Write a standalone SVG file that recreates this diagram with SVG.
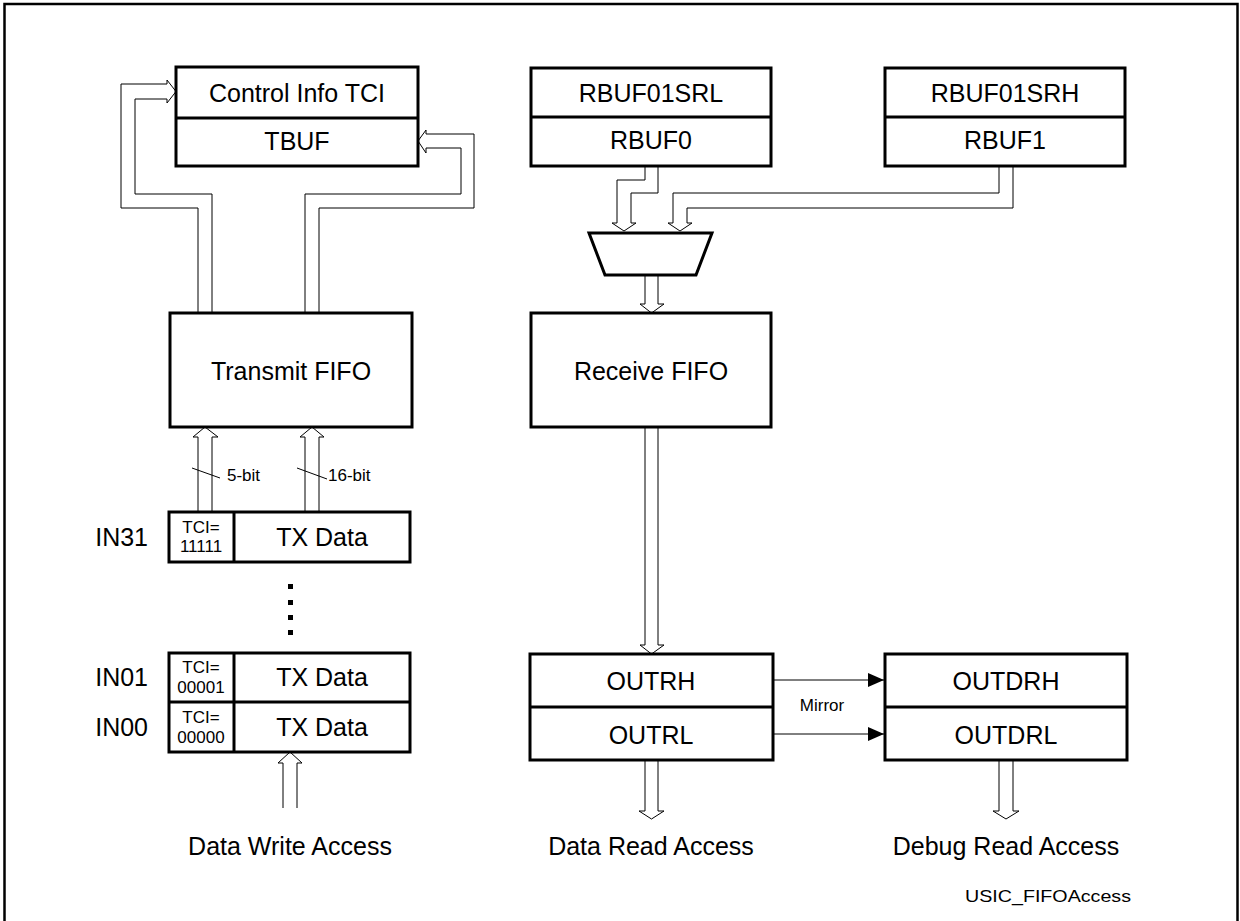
<svg xmlns="http://www.w3.org/2000/svg" width="1240" height="921" viewBox="0 0 1240 921">
<style>
.box{fill:#fff;stroke:#000;stroke-width:3}
.div{stroke:#000;stroke-width:3}
.bus{fill:#fff;stroke:#000;stroke-width:1}
.t{font-family:"Liberation Sans",Arial,sans-serif;font-size:25px;fill:#000;text-anchor:middle}
.s{font-family:"Liberation Sans",Arial,sans-serif;font-size:17px;fill:#000;text-anchor:middle}
.m{font-family:"Liberation Sans",Arial,sans-serif;font-size:17px;fill:#000}
.ln{stroke:#000;stroke-width:1;fill:none}
</style>
<defs>
<marker id="tri" markerWidth="16" markerHeight="14" refX="16" refY="7" orient="auto" markerUnits="userSpaceOnUse" viewBox="0 0 16 14">
<path d="M0,0 L16,7 L0,14 Z" fill="#000"/>
</marker>
</defs>
<rect x="0" y="0" width="1240" height="921" fill="#fff"/>
<rect x="4.5" y="4" width="1233" height="940" fill="none" stroke="#000" stroke-width="2.5"/>

<g id="connectors">
<polyline class="bus" points="198,313 198,208 121,208 121,84 167,84 167,80 176,91.5 167,103 167,99 135,99 135,194 212,194 212,313"/>
<polyline class="bus" points="305,313 305,194 461,194 461,148 426,148 426,153 418,141 426,130 426,134 474,134 474,208 319,208 319,313"/>
<polyline class="bus" points="198,512 198,437 193,437 205,427 218,437 212,437 212,512"/>
<polyline class="bus" points="305,512 305,437 300,437 312,427 324,437 319,437 319,512"/>
<line class="ln" x1="192" y1="468" x2="220" y2="478"/>
<line class="ln" x1="297" y1="468" x2="327" y2="479"/>
<polyline class="bus" points="283,808 283,763 278,763 290,752 302,763 297,763 297,808"/>
<polyline class="bus" points="645,166 645,180 617,180 617,223 612,223 624,231 636,223 631,223 631,193 658,193 658,166"/>
<polyline class="bus" points="999,166 999,193 673,193 673,223 668,223 680,231 692,223 687,223 687,208 1013,208 1013,166"/>
<polyline class="bus" points="645,275 645,304 640,304 651.5,313 664,304 658,304 658,275"/>
<polyline class="bus" points="645,427 645,645 640,645 651.5,654 664,645 658,645 658,427"/>
<polyline class="bus" points="645,760 645,811 639,811 651.5,819 664,811 658,811 658,760"/>
<polyline class="bus" points="999,760 999,811 993,811 1006,819 1019,811 1013,811 1013,760"/>
<line class="ln" x1="773" y1="680" x2="884" y2="680" marker-end="url(#tri)"/>
<line class="ln" x1="773" y1="734" x2="884" y2="734" marker-end="url(#tri)"/>
<text class="m" x="822" y="711" text-anchor="middle" font-size="16">Mirror</text>
<text class="m" x="227" y="481">5-bit</text>
<text class="m" x="328" y="481">16-bit</text>
</g>

<g id="tbuf">
<rect class="box" x="176" y="67" width="242" height="99"/>
<line class="div" x1="176" y1="118" x2="418" y2="118"/>
<text class="t" x="297" y="102">Control Info TCI</text>
<text class="t" x="297" y="150">TBUF</text>
</g>

<g id="rbuf0">
<rect class="box" x="531" y="68" width="240" height="98"/>
<line class="div" x1="531" y1="117" x2="771" y2="117"/>
<text class="t" x="651" y="102">RBUF01SRL</text>
<text class="t" x="651" y="149">RBUF0</text>
</g>

<g id="rbuf1">
<rect class="box" x="885" y="68" width="240" height="98"/>
<line class="div" x1="885" y1="117" x2="1125" y2="117"/>
<text class="t" x="1005" y="102">RBUF01SRH</text>
<text class="t" x="1005" y="149">RBUF1</text>
</g>

<g id="mux">
<polygon class="box" points="589,233 712,233 696,275 605,275"/>
</g>

<g id="transmit-fifo">
<rect class="box" x="170" y="313" width="242" height="114"/>
<text class="t" x="291" y="380">Transmit FIFO</text>
</g>

<g id="receive-fifo">
<rect class="box" x="531" y="313" width="240" height="114"/>
<text class="t" x="651" y="380">Receive FIFO</text>
</g>

<g id="in31">
<text class="t" x="148" y="546" style="text-anchor:end">IN31</text>
<rect class="box" x="169" y="512" width="241" height="50"/>
<line class="div" x1="234" y1="512" x2="234" y2="562"/>
<text class="s" x="201" y="533">TCI=</text>
<text class="s" x="201" y="552">11111</text>
<text class="t" x="322" y="546">TX Data</text>
</g>

<g id="dots">
<rect x="288" y="584" width="5" height="5" fill="#000"/>
<rect x="288" y="600" width="5" height="5" fill="#000"/>
<rect x="288" y="615" width="5" height="5" fill="#000"/>
<rect x="288" y="630" width="5" height="5" fill="#000"/>
</g>

<g id="in01-in00">
<text class="t" x="148" y="686" style="text-anchor:end">IN01</text>
<text class="t" x="148" y="736" style="text-anchor:end">IN00</text>
<rect class="box" x="169" y="653" width="241" height="99"/>
<line class="div" x1="169" y1="702" x2="410" y2="702"/>
<line class="div" x1="234" y1="653" x2="234" y2="752"/>
<text class="s" x="201" y="673">TCI=</text>
<text class="s" x="201" y="693">00001</text>
<text class="s" x="201" y="723">TCI=</text>
<text class="s" x="201" y="743">00000</text>
<text class="t" x="322" y="686">TX Data</text>
<text class="t" x="322" y="736">TX Data</text>
</g>

<g id="outr">
<rect class="box" x="530" y="654" width="243" height="106"/>
<line class="div" x1="530" y1="707" x2="773" y2="707"/>
<text class="t" x="651" y="690">OUTRH</text>
<text class="t" x="651" y="744">OUTRL</text>
</g>

<g id="outdr">
<rect class="box" x="885" y="654" width="242" height="106"/>
<line class="div" x1="885" y1="707" x2="1127" y2="707"/>
<text class="t" x="1006" y="690">OUTDRH</text>
<text class="t" x="1006" y="744">OUTDRL</text>
</g>

<g id="labels">
<text class="t" x="290" y="855">Data Write Access</text>
<text class="t" x="651" y="855">Data Read Access</text>
<text class="t" x="1006" y="855">Debug Read Access</text>
<text class="m" x="965" y="902" font-size="20" textLength="166" lengthAdjust="spacingAndGlyphs">USIC_FIFOAccess</text>
</g>
</svg>
